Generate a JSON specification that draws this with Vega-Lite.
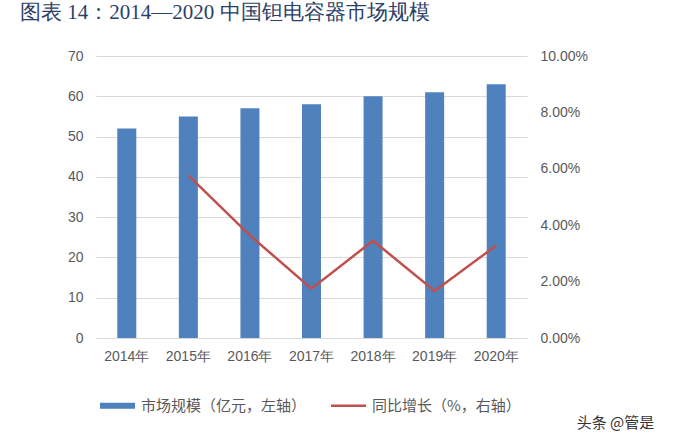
{
  "$schema": "https://vega.github.io/schema/vega-lite/v6.json",
  "autosize": "none",
  "width": 431,
  "height": 282,
  "padding": {"left": 96, "top": 56, "right": 147, "bottom": 104},
  "background": "white",
  "title": {
    "text": "图表 14：2014—2020 中国钽电容器市场规模",
    "anchor": "start",
    "frame": "group",
    "dx": -76,
    "offset": 26,
    "font": "Liberation Serif",
    "fontSize": 21,
    "fontWeight": "normal",
    "color": "#2B4068"
  },
  "config": {
    "view": {"stroke": null},
    "axis": {
      "labelFont": "Liberation Sans",
      "labelFontSize": 14,
      "labelColor": "#595959",
      "domain": false,
      "ticks": false
    }
  },
  "data": {
    "values": [
      {"year": "2014年", "size": 52, "growth": null},
      {"year": "2015年", "size": 55, "growth": 0.0577},
      {"year": "2016年", "size": 57, "growth": 0.0364},
      {"year": "2017年", "size": 58, "growth": 0.0175},
      {"year": "2018年", "size": 60, "growth": 0.0345},
      {"year": "2019年", "size": 61, "growth": 0.0167},
      {"year": "2020年", "size": 63, "growth": 0.0328}
    ]
  },
  "encoding": {
    "x": {
      "field": "year",
      "type": "nominal",
      "sort": null,
      "scale": {"paddingInner": 0.69, "paddingOuter": 0.345},
      "axis": {
        "labelAngle": 0,
        "labelPadding": 11,
        "grid": false,
        "title": "头条 @管是",
        "titleX": 519,
        "titleY": 84,
        "titleAlign": "center",
        "titleBaseline": "middle",
        "titleFont": "Noto Sans CJK SC",
        "titleFontSize": 15,
        "titleFontWeight": "normal",
        "titleColor": "#333333"
      }
    }
  },
  "layer": [
    {
      "mark": {"type": "bar", "size": 19},
      "encoding": {
        "y": {
          "field": "size",
          "type": "quantitative",
          "scale": {"domain": [0, 70]},
          "axis": {
            "values": [0, 10, 20, 30, 40, 50, 60, 70],
            "title": null,
            "labelPadding": 13,
            "grid": true,
            "gridColor": "#D9D9D9",
            "gridWidth": 1
          }
        },
        "color": {
          "datum": "市场规模（亿元，左轴）",
          "type": "nominal",
          "scale": {
            "domain": ["市场规模（亿元，左轴）", "同比增长（%，右轴）"],
            "range": ["#4F81BD", "#C0504D"]
          },
          "legend": {
            "orient": "none",
            "legendX": 4,
            "legendY": 332,
            "direction": "horizontal",
            "title": null,
            "symbolSize": 1225,
            "symbolType": "M-1,-0.17H1V0.17H-1Z",
            "columnPadding": 24,
            "labelFont": "Noto Sans CJK SC",
            "labelFontSize": 15,
            "labelColor": "#595959",
            "labelOffset": 6,
            "labelLimit": 300,
            "encode": {
              "symbols": {
                "update": {
                  "shape": {"signal": "datum.value === '市场规模（亿元，左轴）' ? 'M-1,-0.17H1V0.17H-1Z' : 'M-1,-0.07H1V0.07H-1Z'"},
                  "fill": {"scale": "color", "field": "value"},
                  "strokeWidth": {"value": 0},
                  "opacity": {"value": 1}
                }
              }
            }
          }
        }
      }
    },
    {
      "mark": {"type": "line", "strokeWidth": 2.5},
      "transform": [{"filter": "datum.growth != null"}],
      "encoding": {
        "y": {
          "field": "growth",
          "type": "quantitative",
          "scale": {"domain": [0, 0.1]},
          "axis": {
            "orient": "right",
            "values": [0, 0.02, 0.04, 0.06, 0.08, 0.1],
            "format": ".2%",
            "title": null,
            "labelPadding": 13,
            "grid": false
          }
        },
        "color": {"datum": "同比增长（%，右轴）", "type": "nominal"}
      }
    }
  ],
  "resolve": {"scale": {"y": "independent"}}
}
